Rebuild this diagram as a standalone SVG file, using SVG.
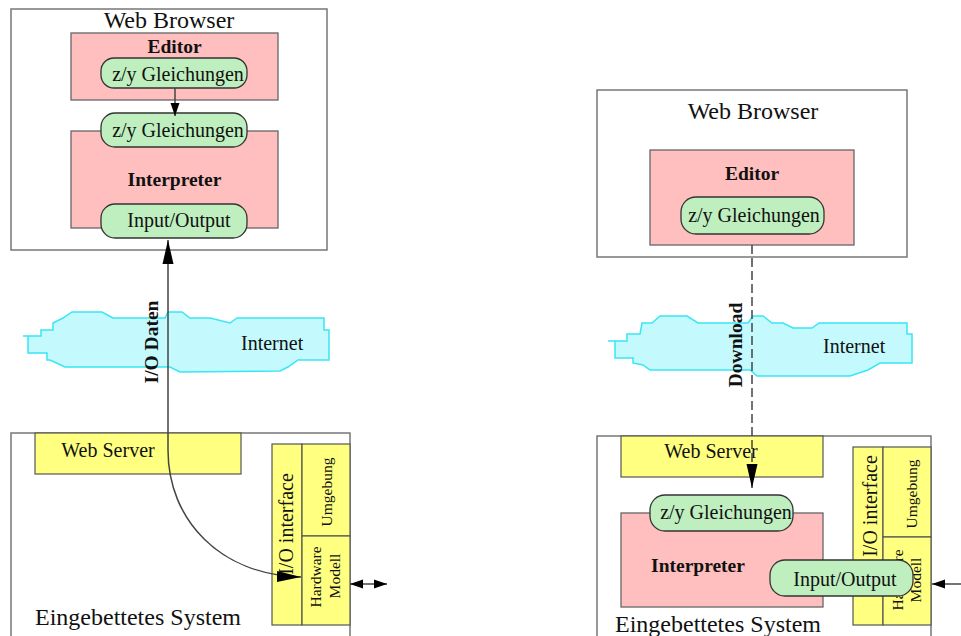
<svg xmlns="http://www.w3.org/2000/svg" width="961" height="636" viewBox="0 0 961 636">
<style>
text{font-family:"Liberation Serif","Times New Roman",serif;fill:#111}
.box{fill:#fff;stroke:#777;stroke-width:1.5}
.pink{fill:#ffbfbf;stroke:#666;stroke-width:1.3}
.pill{fill:#bfefbf;stroke:#333;stroke-width:1.3}
.yel{fill:#ffff80;stroke:#555;stroke-width:1.2}
.cloud{fill:#c4fafd;stroke:#38e6f5;stroke-width:1.5}
.t24{font-size:24px}
.t20{font-size:20px}
.b19{font-size:19.5px;font-weight:bold}
.t15{font-size:15.5px}
.c{text-anchor:middle}
.ln{fill:none;stroke:#444;stroke-width:1.5}
</style>
<defs>
<marker id="ah" markerUnits="userSpaceOnUse" markerWidth="26" markerHeight="12" refX="24" refY="6" orient="auto-start-reverse">
<path d="M0,0.5 L24,6 L0,11.5 z" fill="#000"/>
</marker>
<marker id="as" markerUnits="userSpaceOnUse" markerWidth="14" markerHeight="10" refX="13" refY="5" orient="auto-start-reverse">
<path d="M0,0.5 L13,5 L0,9.5 z" fill="#000"/>
</marker>
</defs>

<g id="left-browser">
<rect class="box" x="11" y="9" width="316" height="241"/>
<text class="t24 c" x="169" y="28">Web Browser</text>
</g>
<g id="left-editor">
<rect class="pink" x="71" y="33" width="207" height="67"/>
<text class="b19 c" x="174.5" y="53">Editor</text>
</g>
<g id="left-editor-eq">
<rect class="pill" x="101" y="58" width="146" height="30" rx="13"/>
<text class="t20 c" x="178" y="81">z/y Gleichungen</text>
</g>
<g id="left-interpreter">
<rect class="pink" x="71" y="131" width="207" height="97"/>
<text class="b19 c" x="174.5" y="186">Interpreter</text>
</g>
<g id="left-interp-eq">
<rect class="pill" x="101" y="113" width="146" height="34" rx="14"/>
<text class="t20 c" x="178" y="137">z/y Gleichungen</text>
</g>
<g id="left-io">
<rect class="pill" x="101" y="204" width="146" height="34" rx="14"/>
<text class="t20 c" x="179" y="227">Input/Output</text>
</g>

<g id="left-internet">
<path class="cloud" d="M28,336 L41,336 L41,330 L53,330 L53,323 L63,318 L72,312 L102,312 L113,318 L165,318 L168,312 L182,312 L190,318 L210,318 L230,323 L237,318 L324,318 L324,330 L329,330 L329,360 L298,360 L288,367 L280,371 L180,372 L170,367 L65,367 L50,360 L47,360 L47,353 L28,353 Z"/>
<path d="M23,336 L28,336" stroke="#38e6f5" stroke-width="1.5"/>
<text class="t20" x="241" y="350">Internet</text>
</g>

<g id="left-embedded">
<path class="box" d="M11,636 L11,433 L350,433 L350,636"/>
<text class="t24" x="35" y="625">Eingebettetes System</text>
</g>
<g id="left-webserver">
<rect class="yel" x="35" y="433" width="206" height="41"/>
<text class="t20 c" x="108" y="457">Web Server</text>
</g>
<g id="left-iointerface">
<rect class="yel" x="272" y="444" width="30" height="181"/>
<text class="t20 c" transform="translate(293,524) rotate(-90)">I/O interface</text>
</g>
<g id="left-umgebung">
<rect class="yel" x="302" y="444" width="48" height="92"/>
<text class="t15 c" transform="translate(332,492) rotate(-90)">Umgebung</text>
</g>
<g id="left-hardware">
<rect class="yel" x="302" y="536" width="48" height="89"/>
<text class="t15 c" transform="translate(321,577) rotate(-90)">Hardware</text>
<text class="t15 c" transform="translate(340,576) rotate(-90)">Modell</text>
</g>

<g id="right-browser">
<rect class="box" x="597" y="90" width="310" height="167"/>
<text class="t24 c" x="753" y="119">Web Browser</text>
</g>
<g id="right-editor">
<rect class="pink" x="650" y="150" width="204" height="95"/>
<text class="b19 c" x="752" y="180">Editor</text>
</g>
<g id="right-editor-eq">
<rect class="pill" x="681" y="197" width="143" height="37" rx="15"/>
<text class="t20 c" x="754" y="222">z/y Gleichungen</text>
</g>

<g id="right-internet">
<path class="cloud" d="M615,341 L627,341 L627,334 L640,334 L642,323 L652,323 L660,316 L687,316 L698,323 L748,323 L753,316 L763,316 L772,323 L783,323 L793,328 L812,328 L819,323 L907,323 L907,334 L912,334 L912,363 L880,363 L868,370 L850,376 L757,376 L750,370 L650,370 L643,365 L633,363 L633,358 L615,358 Z"/>
<path d="M608,341 L615,341" stroke="#38e6f5" stroke-width="1.5"/>
<text class="t20" x="823" y="353">Internet</text>
</g>

<g id="right-embedded">
<path class="box" d="M597,636 L597,436 L931,436 L931,636"/>
<text class="t24" x="615" y="632">Eingebettetes System</text>
</g>
<g id="right-webserver">
<rect class="yel" x="621" y="436" width="202" height="41"/>
<text class="t20 c" x="711" y="458">Web Server</text>
</g>
<g id="right-interpreter">
<rect class="pink" x="621" y="513" width="202" height="94"/>
<text class="b19 c" x="698" y="572">Interpreter</text>
</g>
<g id="right-interp-eq">
<rect class="pill" x="650" y="495" width="143" height="36" rx="15"/>
<text class="t20 c" x="726" y="519">z/y Gleichungen</text>
</g>
<g id="right-iointerface">
<rect class="yel" x="853" y="447" width="30" height="178"/>
<text class="t20 c" transform="translate(877,506) rotate(-90)">I/O interface</text>
</g>
<g id="right-umgebung">
<rect class="yel" x="883" y="447" width="48" height="90"/>
<text class="t15 c" transform="translate(917,494) rotate(-90)">Umgebung</text>
</g>
<g id="right-hardware">
<rect class="yel" x="883" y="537" width="48" height="88"/>
<text class="t15 c" transform="translate(903,580) rotate(-90)">Hardware</text>
<text class="t15 c" transform="translate(921,580) rotate(-90)">Modell</text>
</g>
<g id="right-io">
<rect class="pill" x="770" y="560" width="143" height="36" rx="15"/>
<text class="t20 c" x="845" y="586">Input/Output</text>
</g>

<g id="connectors">
<path class="ln" d="M175,88 L175,116" marker-end="url(#as)"/>
<path class="ln" d="M168,240 L168,450 C168,520 220,575 301,577" marker-start="url(#ah)" marker-end="url(#ah)"/>
<path class="ln" d="M350,584 L387,584" marker-start="url(#as)" marker-end="url(#as)"/>
<path class="ln" d="M752,245 L752,488" stroke-dasharray="9,4" marker-end="url(#ah)"/>
<path class="ln" d="M961,584 L932,584" marker-end="url(#as)"/>
<text class="b19 c" transform="translate(158,342) rotate(-90)">I/O Daten</text>
<text class="b19 c" transform="translate(742,345) rotate(-90)">Download</text>
</g>
</svg>
